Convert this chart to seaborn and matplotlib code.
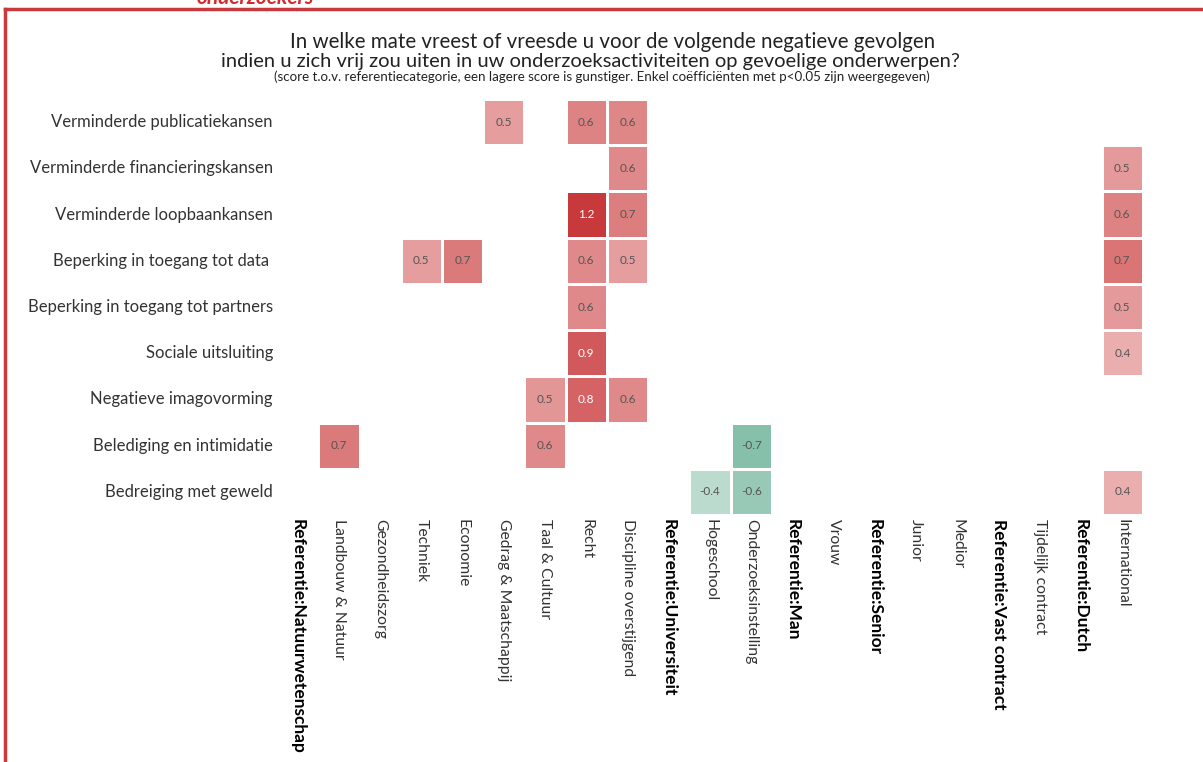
import matplotlib
matplotlib.use("Agg")
import matplotlib.pyplot as plt
import numpy as np
import pandas as pd
import seaborn as sns
from matplotlib.colors import LinearSegmentedColormap
from matplotlib.lines import Line2D

# rows (negative consequences) and columns (groups, reference categories in bold)
gevolgen = [
    "Verminderde publicatiekansen",
    "Verminderde financieringskansen",
    "Verminderde loopbaankansen",
    "Beperking in toegang tot data ",
    "Beperking in toegang tot partners",
    "Sociale uitsluiting",
    "Negatieve imagovorming",
    "Belediging en intimidatie",
    "Bedreiging met geweld",
]
groepen = [
    "Referentie:Natuurwetenschap", "Landbouw & Natuur", "Gezondheidszorg",
    "Techniek", "Economie", "Gedrag & Maatschappij", "Taal & Cultuur", "Recht",
    "Discipline overstijgend", "Referentie:Universiteit", "Hogeschool",
    "Onderzoeksinstelling", "Referentie:Man", "Vrouw", "Referentie:Senior",
    "Junior", "Medior", "Referentie:Vast contract", "Tijdelijk contract",
    "Referentie:Dutch", "International",
]

# significant coefficients per row (estimated from cell shading, shown rounded)
publicatie = {"Gedrag & Maatschappij": 0.5, "Recht": 0.64, "Discipline overstijgend": 0.62}
financiering = {"Discipline overstijgend": 0.6, "International": 0.52}
loopbaan = {"Recht": 1.2, "Discipline overstijgend": 0.68, "International": 0.64}
data_toegang = {"Techniek": 0.5, "Economie": 0.7, "Recht": 0.6,
                "Discipline overstijgend": 0.5, "International": 0.74}
partners = {"Recht": 0.6, "International": 0.52}
uitsluiting = {"Recht": 0.9, "International": 0.42}
imago = {"Taal & Cultuur": 0.54, "Recht": 0.84, "Discipline overstijgend": 0.6}
intimidatie = {"Landbouw & Natuur": 0.7, "Taal & Cultuur": 0.6, "Onderzoeksinstelling": -0.7}
geweld = {"Hogeschool": -0.4, "Onderzoeksinstelling": -0.6, "International": 0.42}

rijen = [publicatie, financiering, loopbaan, data_toegang, partners,
         uitsluiting, imago, intimidatie, geweld]
df = pd.DataFrame(rijen, index=gevolgen).reindex(columns=groepen).astype(float)

plt.rcParams["font.family"] = ["Lato", "DejaVu Sans"]

cmap = LinearSegmentedColormap.from_list("gr", [
    (0.0, "#30936d"),
    (0.5, "#ffffff"),
    (0.6667, "#ebb2b2"),
    (0.75, "#e08a8b"),
    (0.875, "#d25a5c"),
    (1.0, "#c8393b"),
])

fig = plt.figure(figsize=(12.03, 7.62), dpi=100)
ax = fig.add_axes([0.2303, 0.3241, 0.7198, 0.5459])

sns.heatmap(df, ax=ax, cmap=cmap, vmin=-1.2, vmax=1.2, cbar=False,
            annot=True, fmt=".1f", annot_kws={"fontsize": 8.5},
            linewidths=2, linecolor="white")

for t in ax.texts:
    v = float(t.get_text())
    t.set_color("white" if v >= 0.8 else "#555555")

ax.tick_params(length=0, pad=3)
ax.set_xlabel("")
ax.set_ylabel("")
ax.set_yticklabels(gevolgen, rotation=0, fontsize=12, color="#333333")
ax.set_xticklabels(groepen, rotation=-90, fontsize=11.3, color="#333333",
                   ha="center", va="top")
for lbl in ax.get_xticklabels():
    if lbl.get_text().startswith("Referentie"):
        lbl.set_fontweight("bold")
        lbl.set_fontsize(12.5)
        lbl.set_color("black")

fig.text(613 / 1203, 1 - 42 / 762, "In welke mate vreest of vreesde u voor de volgende negatieve gevolgen",
         ha="center", va="center", fontsize=14.8, color="#222222")
fig.text(590 / 1203, 1 - 61 / 762, "indien u zich vrij zou uiten in uw onderzoeksactiviteiten op gevoelige onderwerpen?",
         ha="center", va="center", fontsize=14.5, color="#222222")
fig.text(602 / 1203, 1 - 77 / 762,
         "(score t.o.v. referentiecategorie, een lagere score is gunstiger. "
         "Enkel coëfficiënten met p<0.05 zijn weergegeven)",
         ha="center", va="center", fontsize=9.6, color="#222222")

# red frame of the page (only left and top edges visible) and clipped heading
rood = "#c8393b"
fig.add_artist(Line2D([5 / 1203, 5 / 1203], [-0.1, 1 - 9 / 762], transform=fig.transFigure,
                      color=rood, linewidth=2.5))
fig.add_artist(Line2D([5 / 1203, 1.1], [1 - 9 / 762, 1 - 9 / 762], transform=fig.transFigure,
                      color=rood, linewidth=2.5))
fig.text(255 / 1203, 1 - 4 / 762, "onderzoekers", ha="center", va="baseline",
         fontsize=15, fontweight="bold", fontstyle="italic", color="#d42a2a")

fig.savefig("out.png", dpi=100, facecolor="white")
